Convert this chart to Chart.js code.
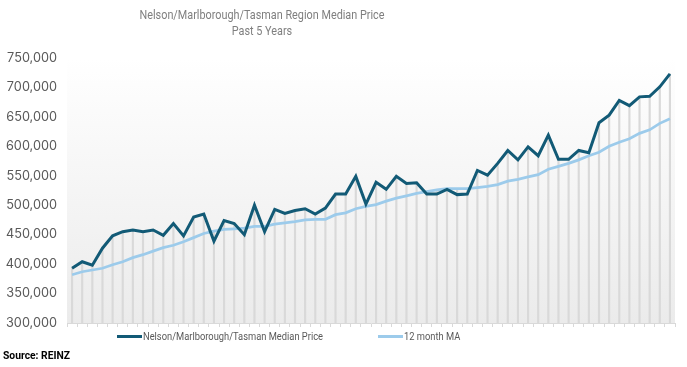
<!DOCTYPE html>
<html>
<head>
<meta charset="utf-8">
<script src="https://cdn.jsdelivr.net/npm/chart.js@4/dist/chart.umd.min.js"></script>
<style>
  html, body { margin: 0; padding: 0; background: #ffffff; }
  #wrap { position: relative; width: 687px; height: 367px; overflow: hidden; }
  #chart { position: absolute; left: 0; top: 0; }
  #title { position: absolute; left: 0; top: 7px; width: 524px; text-align: center; font-family: Roboto, sans-serif;
           color: #7f7f7f; line-height: 15.5px; white-space: nowrap; transform-origin: 262px 0; }
  .sw { position: absolute; width: 25px; height: 3px; }
  .lt { position: absolute; font-family: Roboto, sans-serif; color: #595959; line-height: 14px; white-space: nowrap; transform-origin: 0 50%; }
  #source { position: absolute; left: 3px; top: 348px; font-family: Roboto, sans-serif; font-weight: bold; color: #000;
            line-height: 14px; white-space: nowrap; transform-origin: 0 50%; }
</style>
</head>
<body>
<div id="wrap">
  <canvas id="chart" width="687" height="367"></canvas>
  <div id="title"><div id="t1"></div><div id="t2"></div></div>
  <div class="sw" style="left:117px; top:334.5px; background:#125a76;"></div>
  <div class="lt" id="lg1" style="left:143px; top:329px;"></div>
  <div class="sw" style="left:378px; top:334.5px; background:#9ccbeb;"></div>
  <div class="lt" id="lg2" style="left:404px; top:329px;"></div>
  <div id="source">Source: REINZ</div>
</div>
<script>
const titleLines = ['Nelson/Marlborough/Tasman Region Median Price', 'Past 5 Years'];
const seriesNames = ['Nelson/Marlborough/Tasman Median Price', '12 month MA'];

const months = ['1','2','3','4','5','6','7','8','9','10','11','12','13','14','15','16','17','18','19','20',
  '21','22','23','24','25','26','27','28','29','30','31','32','33','34','35','36','37','38','39','40',
  '41','42','43','44','45','46','47','48','49','50','51','52','53','54','55','56','57','58','59','60'];

const medianPrice = [393000, 404000, 398000, 427000, 448000, 455000, 458000, 455000, 458000, 449000,
  469000, 448000, 480000, 485000, 439000, 474000, 469000, 450000, 500000, 455000,
  493000, 486000, 491000, 494000, 485000, 495000, 519000, 519000, 549000, 502000,
  539000, 527000, 549000, 537000, 538000, 519000, 519000, 527000, 518000, 519000,
  559000, 551000, 571000, 593000, 577000, 599000, 584000, 619000, 578000, 578000,
  593000, 589000, 640000, 653000, 678000, 669000, 684000, 685000, 701000, 723000];

const movingAverage = [382000, 387000, 390000, 393000, 399000, 404000, 411000, 416000, 422000, 428000,
  432000, 438000, 445000, 452000, 456000, 459000, 460000, 461000, 464000, 464000,
  468000, 470000, 472000, 475000, 476000, 476000, 484000, 487000, 494000, 498000,
  501000, 507000, 512000, 516000, 520000, 523000, 526000, 528000, 528000, 528000,
  530000, 532000, 535000, 541000, 544000, 548000, 552000, 561000, 566000, 571000,
  577000, 584000, 590000, 600000, 607000, 613000, 622000, 628000, 639000, 647000];

const yMin = 300000, yMax = 750000, yStep = 50000;

// drop lines reach the highest series value of each month
const dropLines = medianPrice.map((v, i) => Math.max(v, movingAverage[i]));

function textWidth(text, family, weight, size) {
  const c = document.createElement('canvas').getContext('2d');
  c.font = weight + ' ' + size + 'px ' + family;
  return c.measureText(text).width;
}
function fitFont(text, family, weight, width) {
  return 100 * width / textWidth(text, family, weight, 100);
}

// Title (condensed to the reference width)
const tSize = 12.8;
document.getElementById('t1').textContent = titleLines[0];
document.getElementById('t2').textContent = titleLines[1];
const titleEl = document.getElementById('title');
titleEl.style.fontSize = tSize + 'px';
titleEl.style.transform = 'scaleX(' + (245 / textWidth(titleLines[0], 'Roboto', 'normal', tSize)) + ')';

// Legend
const lSize = 11.6;
const lg1 = document.getElementById('lg1'), lg2 = document.getElementById('lg2');
lg1.textContent = seriesNames[0];
lg2.textContent = seriesNames[1];
const lScale = 180 / textWidth(seriesNames[0], 'Roboto', 'normal', lSize);
[lg1, lg2].forEach(el => { el.style.fontSize = lSize + 'px'; el.style.transform = 'scaleX(' + lScale + ')'; });

// Source
const sSize = 11.6;
const src = document.getElementById('source');
src.style.fontSize = sSize + 'px';
src.style.transform = 'scaleX(' + (67 / textWidth('Source: REINZ', 'Roboto', 'bold', sSize)) + ')';

const tickSize = fitFont('750,000', 'Inter', 'normal', 50);

const bgPlugin = {
  id: 'plotBg',
  beforeDraw(chart) {
    const { ctx, chartArea: a } = chart;
    const g = ctx.createLinearGradient(0, a.top, 0, a.bottom);
    g.addColorStop(0, '#ffffff');
    g.addColorStop(1, '#ebebeb');
    ctx.save();
    ctx.fillStyle = g;
    ctx.fillRect(a.left, a.top, a.right - a.left, a.bottom - a.top);
    ctx.restore();
  }
};

new Chart(document.getElementById('chart'), {
  type: 'line',
  data: {
    labels: months,
    datasets: [
      { type: 'line', label: seriesNames[0], data: medianPrice,
        borderColor: '#125a76', borderWidth: 3, pointRadius: 0, tension: 0, order: 1 },
      { type: 'line', label: seriesNames[1], data: movingAverage,
        borderColor: '#9ccbeb', borderWidth: 2.75, pointRadius: 0, tension: 0, order: 2 },
      { type: 'bar', label: 'drop lines', data: dropLines,
        backgroundColor: '#d9d9d9', barThickness: 1.5, order: 3 }
    ]
  },
  options: {
    responsive: false,
    animation: false,
    events: [],
    layout: { padding: { left: 0, right: 12, top: 58, bottom: 40 } },
    plugins: {
      legend: { display: false },
      tooltip: { enabled: false },
      title: { display: false }
    },
    scales: {
      x: {
        offset: true,
        grid: { offset: true, drawOnChartArea: false, drawTicks: true, tickLength: 4, color: '#d9d9d9' },
        border: { display: true, color: '#d9d9d9' },
        ticks: { display: false }
      },
      y: {
        min: yMin, max: yMax,
        grid: { display: false, drawTicks: false },
        border: { display: false },
        ticks: {
          stepSize: yStep, padding: 10, color: '#595959',
          font: { family: 'Inter', size: tickSize },
          callback: v => v.toLocaleString('en-US')
        },
        afterFit(s) { s.width = 67; }
      }
    }
  },
  plugins: [bgPlugin]
});
</script>
</body>
</html>
